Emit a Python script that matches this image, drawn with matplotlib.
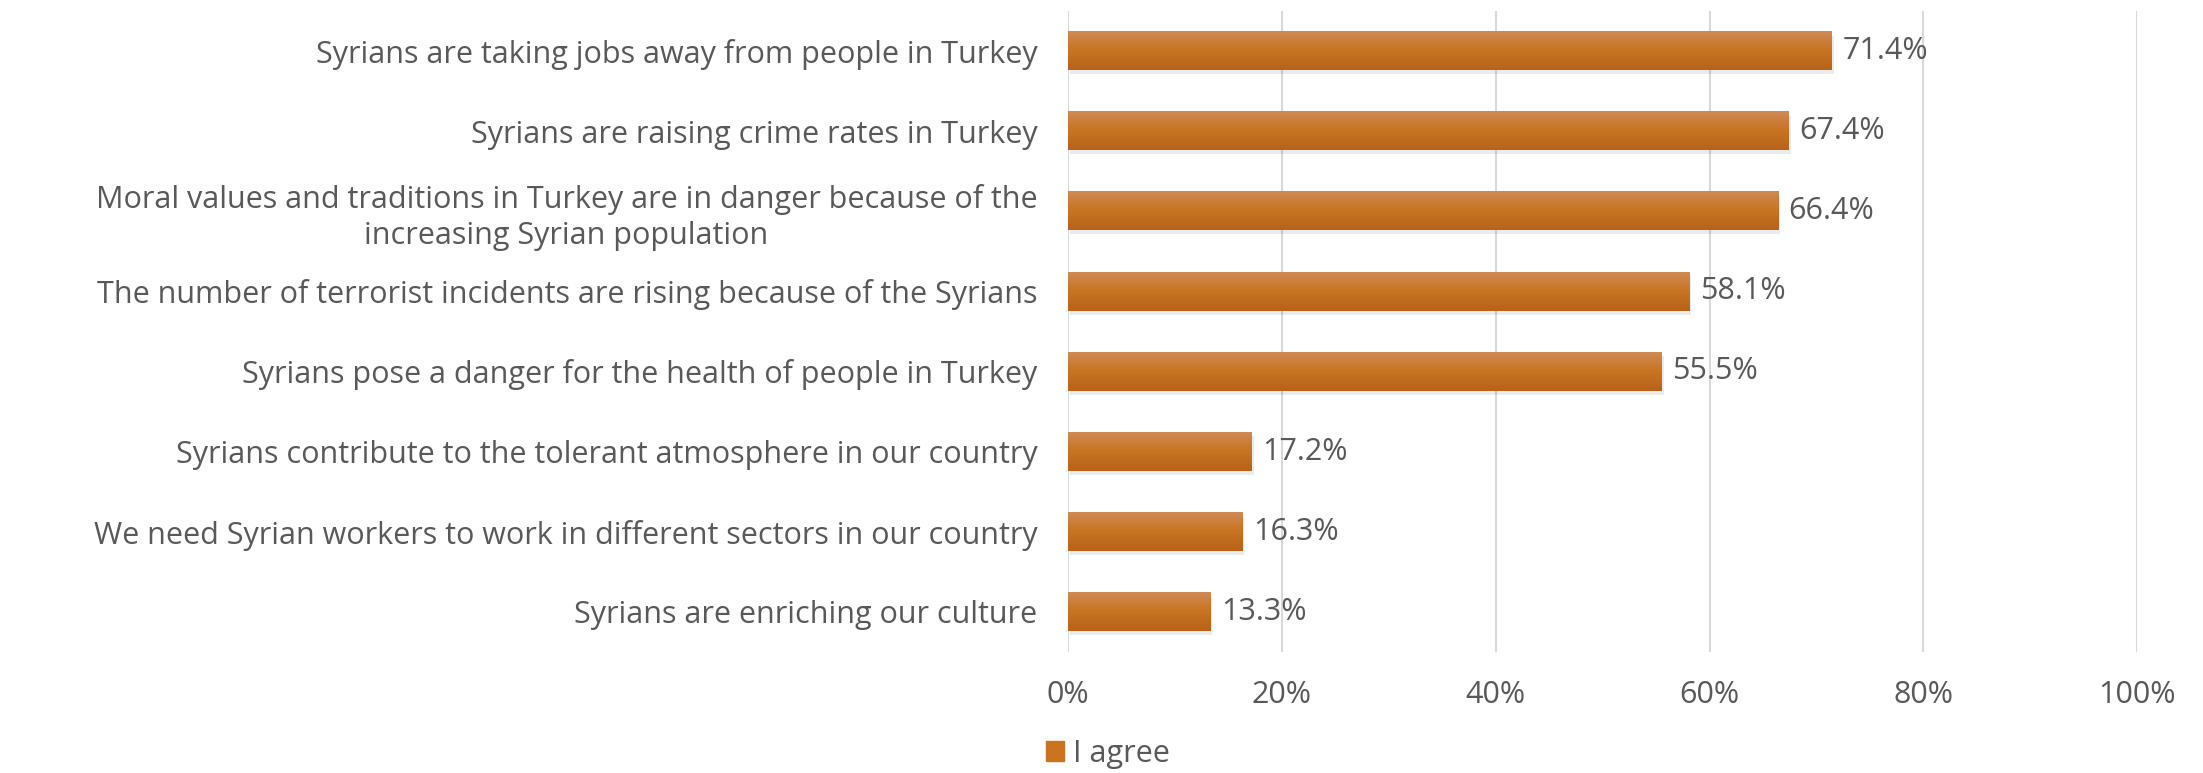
import numpy as np
import matplotlib.pyplot as plt
from matplotlib.colors import LinearSegmentedColormap
from matplotlib.patches import Rectangle

plt.rcParams['font.family'] = ['Open Sans', 'DejaVu Sans']

statements = [
    "Syrians are taking jobs away from people in Turkey",
    "Syrians are raising crime rates in Turkey",
    "Moral values and traditions in Turkey are in danger because of the\nincreasing Syrian population",
    "The number of terrorist incidents are rising because of the Syrians",
    "Syrians pose a danger for the health of people in Turkey",
    "Syrians contribute to the tolerant atmosphere in our country",
    "We need Syrian workers to work in different sectors in our country",
    "Syrians are enriching our culture",
]
agree = [71.4, 67.4, 66.4, 58.1, 55.5, 17.2, 16.3, 13.3]
xticks = [0, 20, 40, 60, 80, 100]
series_name = "I agree"

text_col = '#595959'
# light at the top of each bar, darker at the bottom
grad = LinearSegmentedColormap.from_list('bar', ['#cf8a55', '#c87420', '#b8621a'])

fig = plt.figure(figsize=(22.03, 7.73), dpi=100)
ax = fig.add_axes([0.4847, 0.1565, 0.4855, 0.8295])

y = np.arange(len(statements))
bars = ax.barh(y, agree, height=0.48, color='#c87420', label=series_name, zorder=3)
ax.set_ylim(len(statements) - 0.5, -0.5)
ax.set_xlim(0, 100)

g = np.linspace(0, 1, 100).reshape(-1, 1)
for b in bars:
    x0, y0, w, h = b.get_x(), b.get_y(), b.get_width(), b.get_height()
    b.set_visible(False)
    ax.add_patch(Rectangle((x0 + 0.2, y0 + 0.05), w, h, color='#000000', alpha=0.08, zorder=2, lw=0))
    ax.imshow(g, cmap=grad, extent=(x0, x0 + w, y0 + h, y0), origin='upper', aspect='auto', zorder=3)
    ax.text(w + 1.0, y0 + h / 2, f"{w:.1f}%", va='center', ha='left', fontsize=22, color=text_col, zorder=4)

ax.set_xticks(xticks)
ax.set_xticklabels([f"{t}%" for t in xticks], fontsize=22, color=text_col)
ax.set_yticks(y)
ax.set_yticklabels(statements, fontsize=22, color=text_col, multialignment='center', linespacing=1.25)
ax.tick_params(axis='both', length=0)
ax.tick_params(axis='y', pad=22)
ax.tick_params(axis='x', pad=20)
ax.grid(axis='x', color='#d9d9d9', lw=1.5, zorder=0)
for s in ax.spines.values():
    s.set_visible(False)

handle = Rectangle((0, 0), 1, 1, color='#c87420')
fig.legend([handle], [series_name], loc='lower center', bbox_to_anchor=(0.503, -0.03),
           frameon=False, fontsize=22, labelcolor=text_col, handlelength=0.6, handleheight=0.6,
           handletextpad=0.3)

fig.savefig('out.png', dpi=100)
